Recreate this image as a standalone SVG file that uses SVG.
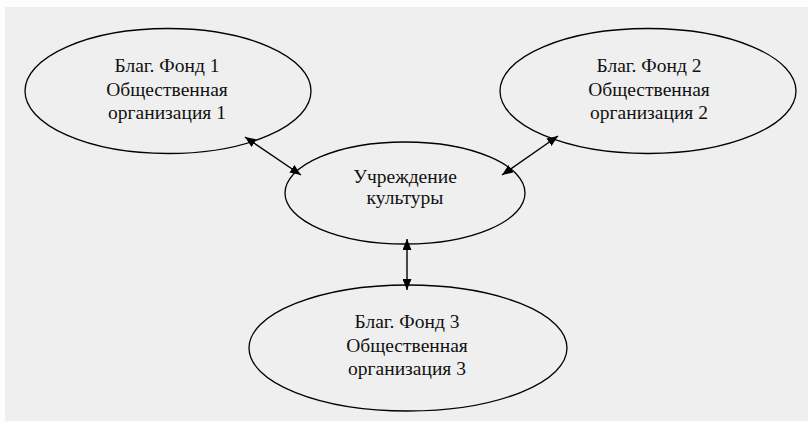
<svg xmlns="http://www.w3.org/2000/svg" width="808" height="423" viewBox="0 0 808 423">
<style>
.n{fill:none;stroke:#000;stroke-width:1.3}
.t{font-family:"Liberation Serif","Times New Roman",serif;font-size:19.5px;fill:#111;text-anchor:middle}
.c{stroke:#000;stroke-width:1.4;fill:none}
</style>
<defs>
<marker id="ah" viewBox="0 0 11 9" refX="11" refY="4.5" markerWidth="11" markerHeight="9" markerUnits="userSpaceOnUse" orient="auto-start-reverse">
<path d="M0,0 L11,4.5 L0,9 Z" fill="#000"/>
</marker>
</defs>
<rect x="0" y="0" width="808" height="423" fill="#fdfdfd"/>
<rect x="5" y="7" width="803" height="414" fill="#efefef"/>
<g id="connectors">
<line class="c" x1="245" y1="137" x2="301" y2="175" marker-start="url(#ah)" marker-end="url(#ah)"/>
<line class="c" x1="558" y1="136" x2="502" y2="175" marker-start="url(#ah)" marker-end="url(#ah)"/>
<line class="c" x1="407" y1="239" x2="407" y2="290" marker-start="url(#ah)" marker-end="url(#ah)"/>
</g>
<g id="fund1">
<ellipse class="n" cx="168" cy="91" rx="143" ry="62.5"/>
<text class="t" x="167" y="72">Благ. Фонд 1</text>
<text class="t" x="167" y="96">Общественная</text>
<text class="t" x="167" y="119">организация 1</text>
</g>
<g id="fund2">
<ellipse class="n" cx="648" cy="91" rx="148" ry="62.5"/>
<text class="t" x="649" y="72">Благ. Фонд 2</text>
<text class="t" x="649" y="96">Общественная</text>
<text class="t" x="649" y="119">организация 2</text>
</g>
<g id="culture">
<ellipse class="n" cx="405" cy="193" rx="120" ry="51"/>
<text class="t" x="405" y="183">Учреждение</text>
<text class="t" x="405" y="204">культуры</text>
</g>
<g id="fund3">
<ellipse class="n" cx="408" cy="348" rx="159" ry="63"/>
<text class="t" x="407" y="328">Благ. Фонд 3</text>
<text class="t" x="407" y="352">Общественная</text>
<text class="t" x="407" y="375">организация 3</text>
</g>
</svg>
